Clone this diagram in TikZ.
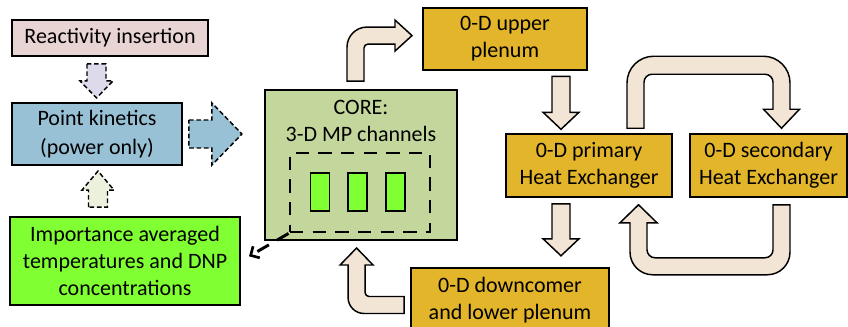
\documentclass[tikz,border=0pt]{standalone}
\usepackage{fontspec}
\setmainfont{Carlito}
\usetikzlibrary{calc,arrows.meta}

\definecolor{reactfill}{RGB}{232,212,210}
\definecolor{lavender}{RGB}{222,218,236}
\definecolor{pkfill}{RGB}{152,193,214}
\definecolor{paleolive}{RGB}{236,241,222}
\definecolor{limefill}{RGB}{128,255,51}
\definecolor{corefill}{RGB}{195,214,155}
\definecolor{goldfill}{RGB}{227,181,42}
\definecolor{flowfill}{RGB}{243,229,214}

\begin{document}
\begin{tikzpicture}[x=0.75pt, y=-0.75pt, >=Stealth,
    box/.style={draw, line width=1.4pt, align=center, inner sep=2pt, font=\fontsize{16.5}{20.25}\selectfont},
    goldbox/.style={box, fill=goldfill, minimum height=47pt},
    rod/.style={draw, line width=1.2pt, fill=limefill, minimum width=14.25pt, minimum height=28.5pt, inner sep=0pt},
    flow/.style={draw, fill=flowfill, line width=1.1pt},
    dflow/.style={draw, dash pattern=on 3.5pt off 2pt, line width=1.1pt},
    chdash/.style={draw, line width=2.2pt, dash pattern=on 10pt off 7pt}]
    \useasboundingbox (0,0) rectangle (848,326);

    % left column: point kinetics
    \node[box, fill=reactfill, minimum width=147pt, minimum height=27pt] (react) at (110,38) {Reactivity insertion};
    \node[box, fill=pkfill, minimum width=127.5pt, minimum height=46.5pt] (pk) at (97,134) {Point kinetics\\[2pt](power only)};
    \node[box, fill=limefill, minimum width=172.5pt, minimum height=66pt] (imp) at (125,261) {Importance averaged\\temperatures and DNP\\concentrations};

    % core with channels
    \node[box, fill=corefill, minimum width=144pt, minimum height=112.5pt] (core) at (361,165) {};
    \node[align=center, font=\fontsize{16.5}{20.25}\selectfont] (coretitle) at (361,121) {CORE:\\3-D MP channels};
    \node[chdash, minimum width=105pt, minimum height=59.25pt] (chan) at (360,192.5) {};
    \foreach \i/\x in {1/320, 2/357.5, 3/395.5}
        \node[rod] (rod\i) at (\x,192) {};

    % 0-D loop
    \node[goldbox, minimum width=123pt] (upper) at (505,39) {0-D upper\\plenum};
    \node[goldbox, minimum width=124.5pt] (prim) at (589,165.5) {0-D primary\\Heat Exchanger};
    \node[goldbox, minimum width=117.75pt] (sec) at (768.5,165.5) {0-D secondary\\Heat Exchanger};
    \node[goldbox, minimum width=148.5pt, minimum height=48pt] (down) at (510,300) {0-D downcomer\\and lower plenum};

    % dashed feedback arrows
    \draw[dflow, fill=lavender] ($(react.south)+(-23,7)$) -- ++(0,17) -- ++(-7,0) -- ++(16.5,17) -- ++(16.5,-17) -- ++(-7,0) -- ++(0,-17) -- cycle;
    \draw[dflow, fill=paleolive] ($(imp.north)+(-36.5,-9)$) -- ++(0,-17) -- ++(-6.5,0) -- ++(16,-19) -- ++(16,19) -- ++(-6.5,0) -- ++(0,17) -- cycle;
    \draw[dflow, fill=pkfill] ($(pk.east)+(6,-14)$) -- ++(23,0) -- ++(0,-17) -- ++(30,31) -- ++(-30,31) -- ++(0,-17) -- ++(-23,0) -- cycle;
    \draw[chdash, -{Straight Barb[length=5pt, width=10pt, line width=2pt]}, shorten >=7pt] (chan.south west) -- (imp.east);

    % flow arrows
    \draw[flow] ($(core.north)+(-14,-8)$) [rounded corners=15pt] -- ++(0,-54) [sharp corners] -- ++(48,0) -- ++(0,-7) -- ++(17,15.5) -- ++(-17,15.5) -- ++(0,-7) [rounded corners=3pt] -- ++(-31,0) [sharp corners] -- ++(0,37) -- cycle;
    \draw[flow] ($(upper.south)+(47,5)$) -- ++(0,36) -- ++(-9,0) -- ++(18,17) -- ++(18,-17) -- ++(-9,0) -- ++(0,-36) -- cycle;
    \draw[flow] ($(prim.south)+(-37,6)$) -- ++(0,35) -- ++(-9,0) -- ++(18,17) -- ++(18,-17) -- ++(-9,0) -- ++(0,-35) -- cycle;
    \draw[flow] ($(prim.north)+(38,-5)$) [rounded corners=20pt] -- ++(0,-72) -- ++(163,0) [sharp corners] -- ++(0,53) -- ++(9.5,0) -- ++(-18,19) -- ++(-18,-19) -- ++(9.5,0) [rounded corners=6pt] -- ++(0,-35) -- ++(-129,0) [sharp corners] -- ++(0,54) -- cycle;
    \draw[flow] ($(sec.south)+(21.5,7)$) [rounded corners=17pt] -- ++(0,70) -- ++(-160,0) [sharp corners] -- ++(0,-52) -- ++(-10,0) -- ++(18.5,-18) -- ++(18.5,18) -- ++(-10,0) [rounded corners=6pt] -- ++(0,35) -- ++(126,0) [sharp corners] -- ++(0,-53) -- cycle;
    \draw[flow] ($(down.west)+(-6,-3.5)$) [rounded corners=3pt] -- ++(-39,0) [sharp corners] -- ++(0,-31.5) -- ++(8,0) -- ++(-16.5,-17) -- ++(-16.5,17) -- ++(8,0) [rounded corners=12pt] -- ++(0,48.5) [sharp corners] -- ++(56,0) -- cycle;
\end{tikzpicture}
\end{document}
